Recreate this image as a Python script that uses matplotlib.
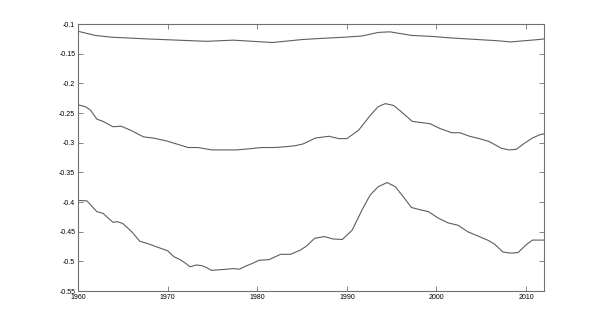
import matplotlib
matplotlib.use('Agg')
import matplotlib.pyplot as plt
import numpy as np

# series
top_years = [1960, 1961.9, 1963.7, 1967.8, 1971.1, 1974.4, 1977.3, 1981.7, 1985.0, 1987.2,
             1989.8, 1991.7, 1993.5, 1994.8, 1997.2, 1999.8, 2001.3, 2004.6, 2006.8, 2008.3,
             2009.8, 2011.4, 2012]
top_vals = [-0.112, -0.119, -0.122, -0.125, -0.127, -0.129, -0.127, -0.131, -0.126, -0.124,
            -0.122, -0.120, -0.114, -0.113, -0.119, -0.121, -0.123, -0.126, -0.128, -0.130,
            -0.128, -0.126, -0.125]

mid_years = [1960.0, 1960.8, 1961.4, 1962.1, 1962.8, 1963.9, 1964.8, 1965.9, 1967.3, 1968.4,
             1969.9, 1971.0, 1972.3, 1973.4, 1974.9, 1976.2, 1977.7, 1979.2, 1980.5, 1981.8,
             1982.9, 1984.2, 1985.1, 1986.5, 1988.0, 1989.1, 1990.0, 1991.3, 1992.6, 1993.5,
             1994.3, 1995.2, 1996.1, 1997.3, 1998.4, 1999.3, 2000.4, 2001.7, 2002.6, 2003.7,
             2004.8, 2005.9, 2007.2, 2008.1, 2008.9, 2009.8, 2010.7, 2011.6, 2012]
mid_vals = [-0.236, -0.239, -0.245, -0.260, -0.264, -0.273, -0.272, -0.279, -0.290, -0.292,
            -0.297, -0.302, -0.308, -0.308, -0.312, -0.312, -0.312, -0.310, -0.308, -0.308,
            -0.307, -0.305, -0.302, -0.292, -0.289, -0.293, -0.293, -0.279, -0.254, -0.239,
            -0.234, -0.237, -0.248, -0.264, -0.266, -0.268, -0.276, -0.283, -0.283, -0.289,
            -0.293, -0.298, -0.309, -0.312, -0.311, -0.301, -0.292, -0.286, -0.285]

low_years = [1960.0, 1961.0, 1962.1, 1962.8, 1963.9, 1964.4, 1965.0, 1966.0, 1966.9, 1967.8,
             1968.7, 1970.0, 1970.7, 1971.4, 1972.0, 1972.5, 1973.2, 1973.8, 1974.3, 1974.9,
             1975.8, 1976.7, 1977.3, 1978.0, 1978.7, 1979.5, 1980.2, 1981.3, 1982.6, 1983.7,
             1984.8, 1985.5, 1986.4, 1987.5, 1988.4, 1989.5, 1990.6, 1991.7, 1992.6, 1993.5,
             1994.5, 1995.4, 1996.3, 1997.2, 1998.2, 1999.1, 2000.2, 2001.3, 2002.4, 2003.5,
             2004.6, 2005.7, 2006.5, 2007.4, 2008.3, 2009.1, 2010.0, 2010.7, 2012]
low_vals = [-0.397, -0.398, -0.416, -0.419, -0.434, -0.433, -0.436, -0.450, -0.466, -0.470,
            -0.475, -0.482, -0.492, -0.497, -0.503, -0.509, -0.506, -0.507, -0.510, -0.515,
            -0.514, -0.513, -0.512, -0.513, -0.508, -0.503, -0.498, -0.497, -0.488, -0.488,
            -0.481, -0.474, -0.461, -0.458, -0.462, -0.463, -0.447, -0.413, -0.388, -0.374,
            -0.367, -0.374, -0.391, -0.409, -0.413, -0.416, -0.427, -0.435, -0.439, -0.450,
            -0.457, -0.464, -0.471, -0.484, -0.486, -0.485, -0.472, -0.464, -0.464]

x_ticks = [1960, 1970, 1980, 1990, 2000, 2010]
y_ticks = [-0.55, -0.5, -0.45, -0.4, -0.35, -0.3, -0.25, -0.2, -0.15, -0.1]

plt.rcParams['font.family'] = ['Liberation Sans', 'DejaVu Sans']
plt.rcParams['axes.unicode_minus'] = False

fig = plt.figure(figsize=(6, 3.26), dpi=100)
ax = fig.add_axes([0.13, 0.107, 0.7767, 0.819])

for xs, ys in [(top_years, top_vals), (mid_years, mid_vals), (low_years, low_vals)]:
    ax.plot(xs, ys, color='#5e5e5e', lw=0.8)

ax.set_xlim(1960, 2012)
ax.set_ylim(-0.55, -0.1)
ax.set_xticks(x_ticks)
ax.set_xticklabels([str(t) for t in x_ticks])
ax.set_yticks(y_ticks)
ax.set_yticklabels(['%g' % t for t in y_ticks])

for s in ax.spines.values():
    s.set_color('#707070')
    s.set_linewidth(0.8)
ax.tick_params(direction='in', length=3.5, width=0.6, colors='#707070',
               labelcolor='#000000', labelsize=5, top=True, right=True, pad=2)

fig.savefig('out.png', dpi=100)
